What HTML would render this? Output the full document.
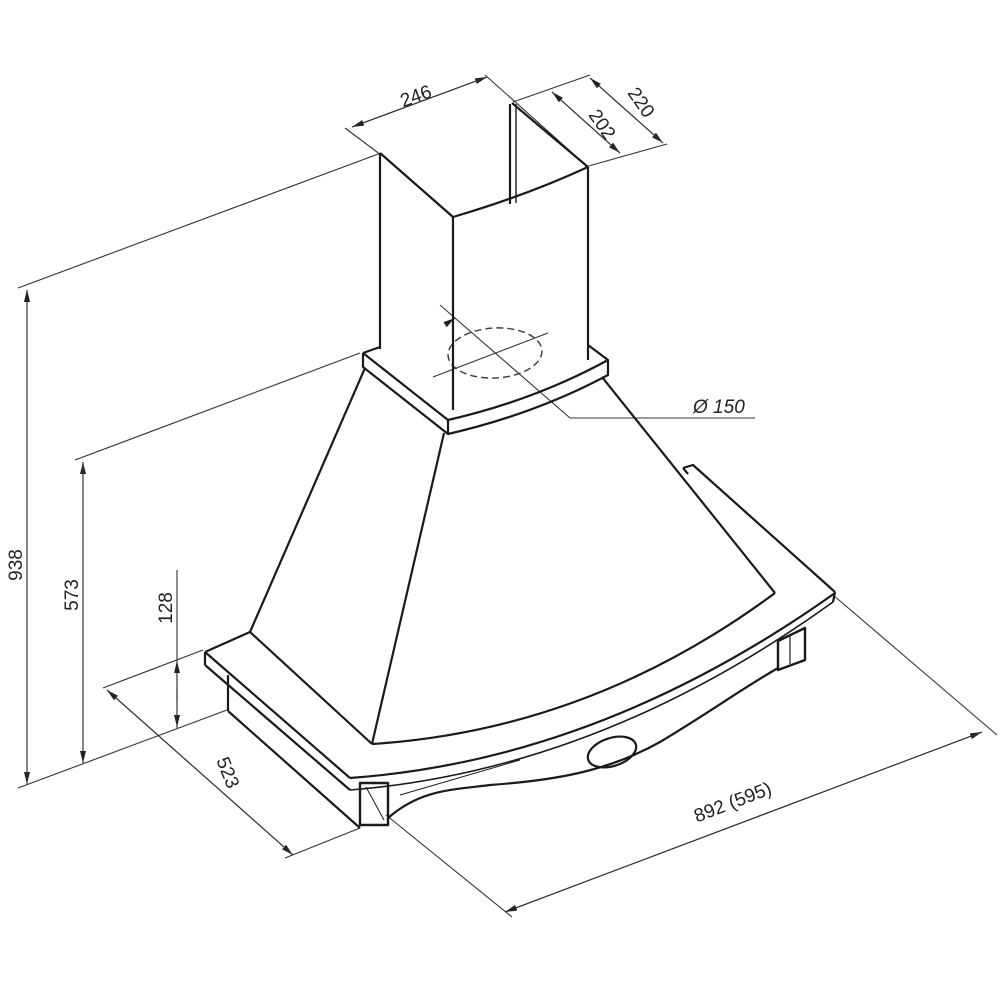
<!DOCTYPE html>
<html><head><meta charset="utf-8"><style>
html,body{margin:0;padding:0;background:#fff;}
svg{display:block;}
text{font-family:"Liberation Sans",sans-serif;fill:#222;font-size:19px;}
</style></head><body>
<svg width="1000" height="1000" viewBox="0 0 1000 1000" xmlns="http://www.w3.org/2000/svg">
<defs>
<marker id="a" viewBox="0 0 12 6" refX="12" refY="3" markerWidth="12" markerHeight="6" orient="auto" markerUnits="userSpaceOnUse">
<path d="M0,0 L12,3 L0,6 z" fill="#222"/></marker>
</defs>
<g stroke="#333" stroke-width="1.1" fill="none">
<!-- 938 -->
<line x1="18" y1="288" x2="381" y2="153"/>
<line x1="18" y1="788" x2="227" y2="710"/>
<line x1="27" y1="300" x2="27" y2="290" marker-end="url(#a)"/>
<line x1="27" y1="290" x2="27" y2="784" marker-end="url(#a)"/>
<line x1="27" y1="784" x2="27" y2="290" marker-end="url(#a)"/>
<!-- 573 -->
<line x1="75" y1="460" x2="360" y2="353"/>
<line x1="83" y1="763" x2="83" y2="462" marker-end="url(#a)"/>
<line x1="83" y1="462" x2="83" y2="763" marker-end="url(#a)"/>
<!-- 128 -->
<line x1="103" y1="688" x2="203" y2="650"/>
<line x1="177" y1="570" x2="177" y2="728"/>
<line x1="177" y1="700" x2="177" y2="661" marker-end="url(#a)"/>
<line x1="177" y1="690" x2="177" y2="727" marker-end="url(#a)"/>
<!-- 523 -->
<line x1="107" y1="690" x2="293" y2="855" marker-end="url(#a)"/>
<line x1="293" y1="855" x2="107" y2="690" marker-end="url(#a)"/>
<line x1="285" y1="858" x2="360" y2="828"/>
<!-- 892 -->
<line x1="386" y1="815" x2="512" y2="917"/>
<line x1="833" y1="595" x2="997" y2="735"/>
<line x1="505" y1="912" x2="982" y2="732" marker-end="url(#a)"/>
<line x1="982" y1="732" x2="505" y2="912" marker-end="url(#a)"/>
<!-- 246 -->
<line x1="345" y1="128" x2="381" y2="155"/>
<line x1="485" y1="75" x2="588" y2="167"/>
<line x1="352" y1="127" x2="487" y2="77" marker-end="url(#a)"/>
<line x1="487" y1="77" x2="352" y2="127" marker-end="url(#a)"/>
<!-- 220 / 202 -->
<line x1="513" y1="102" x2="590" y2="75"/>
<line x1="585" y1="167" x2="667" y2="144"/>
<line x1="590" y1="78" x2="663" y2="143" marker-end="url(#a)"/>
<line x1="663" y1="143" x2="590" y2="78" marker-end="url(#a)"/>
<line x1="552" y1="92" x2="620" y2="153" marker-end="url(#a)"/>
<line x1="620" y1="153" x2="552" y2="92" marker-end="url(#a)"/>
<!-- Ø150 leader -->
<line x1="440" y1="305" x2="570" y2="418"/>
<line x1="570" y1="418" x2="755" y2="418"/>
<line x1="433" y1="377" x2="548" y2="333"/>
<line x1="452" y1="320" x2="455" y2="318" marker-end="url(#a)"/>
</g>
<ellipse cx="495" cy="353" rx="47" ry="25" transform="rotate(-3 495 353)" fill="none" stroke="#444" stroke-width="1.5" stroke-dasharray="7,4"/>

<g stroke="#1a1a1a" stroke-width="2.2" fill="none" stroke-linejoin="round">
<!-- chimney -->
<line x1="380" y1="153" x2="380" y2="349"/>
<line x1="453" y1="217" x2="453" y2="410"/>
<line x1="588" y1="167" x2="588" y2="360"/>
<line x1="380" y1="153" x2="453" y2="217"/>
<path d="M453,217 Q525,196 588,167"/>
<line x1="512" y1="103" x2="588" y2="167"/>
<line x1="510" y1="104" x2="510" y2="204"/>
<line x1="516" y1="104" x2="516" y2="203" stroke-width="1.4"/>
<!-- collar -->
<path d="M363,353 L380,347 M363,353 L448,420 Q535,400 608,360 L588,345"/>
<path d="M363,353 L363,367 L448,434 Q535,414 608,375 L608,360"/>
<line x1="448" y1="420" x2="448" y2="434"/>
<!-- hood -->
<line x1="365" y1="368" x2="250" y2="632"/>
<line x1="444" y1="433" x2="372" y2="744"/>
<line x1="602" y1="377" x2="775" y2="593"/>
<path d="M372,744 Q590,730 775,593"/>
<!-- trim left -->
<path d="M205,652 L250,632 L372,744"/>
<line x1="205" y1="652" x2="350" y2="778"/>
<line x1="205" y1="652" x2="205" y2="665"/>
<line x1="205" y1="665" x2="350" y2="790"/>
<line x1="228" y1="675" x2="228" y2="711"/>
<line x1="228" y1="711" x2="360" y2="828"/>
<!-- trim right -->
<path d="M683,468 L693,465 L835,592"/>
<line x1="683" y1="468" x2="688" y2="474"/>
<path d="M350,778 Q600,760 835,593"/>
<path d="M350,790 Q600,770 833,602" stroke-width="1.6"/>
<line x1="835" y1="592" x2="833" y2="602"/>
<!-- brackets -->
<rect x="360" y="783" width="28" height="42" stroke-width="2.4"/>
<line x1="366" y1="787" x2="384" y2="820" stroke-width="1"/>
<path d="M778,641 L805,628 L805,660 L778,670 Z" stroke-width="2.4"/>
<line x1="790" y1="636" x2="790" y2="664" stroke-width="1.2"/>
<!-- wavy lower -->
<path d="M388,818 C420,790 450,790 490,785 C560,780 610,770 660,742 C710,712 740,690 778,668"/>
<path d="M400,795 L520,760" stroke-width="1"/>
<ellipse cx="612" cy="752" rx="25" ry="14" transform="rotate(-18 612 752)"/>
</g>

<text transform="translate(22,565) rotate(-90)" text-anchor="middle">938</text>
<text transform="translate(78,595) rotate(-90)" text-anchor="middle">573</text>
<text transform="translate(172,608) rotate(-90)" text-anchor="middle">128</text>
<text transform="translate(222,775) rotate(68)" text-anchor="middle">523</text>
<text transform="translate(735,808) rotate(-21)" text-anchor="middle">892 (595)</text>
<text transform="translate(418,102) rotate(-20)" text-anchor="middle">246</text>
<text transform="translate(636,106) rotate(55)" text-anchor="middle">220</text>
<text transform="translate(597,128) rotate(55)" text-anchor="middle">202</text>
<text x="693" y="413" font-style="italic">Ø 150</text>
</svg>
</body></html>
